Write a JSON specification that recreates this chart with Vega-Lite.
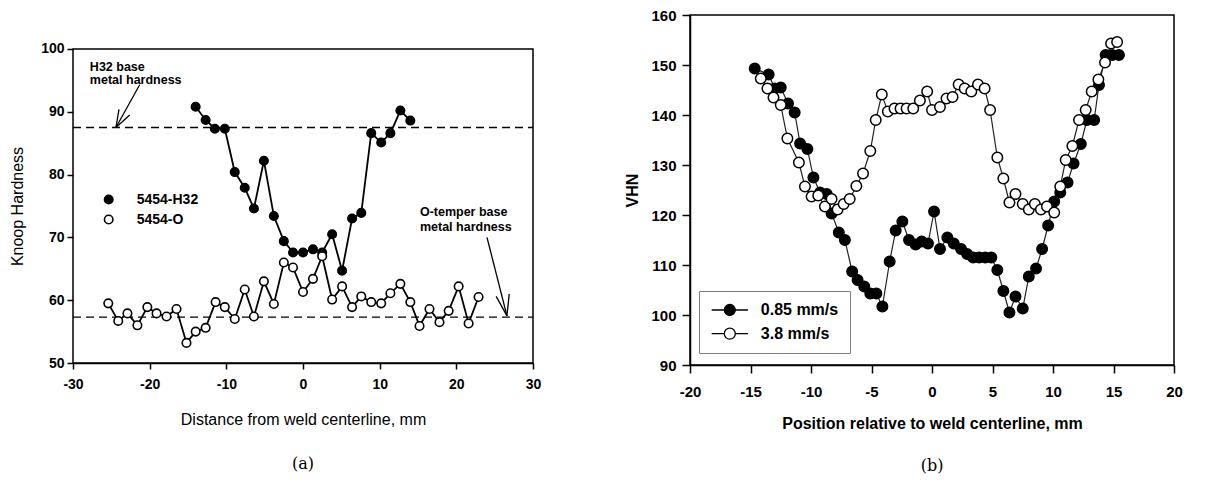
{
  "$schema": "https://vega.github.io/schema/vega-lite/v6.json",
  "padding": {"left": 9, "top": 7, "right": 5, "bottom": 0},
  "background": "white",
  "spacing": 83,
  "config": {
    "view": {"stroke": "black", "strokeWidth": 1.5},
    "axis": {"grid": false, "domainColor": "black", "domainWidth": 1.5, "tickColor": "black", "tickWidth": 1.5, "labelColor": "black", "titleColor": "black", "labelFont": "Liberation Sans", "titleFont": "Liberation Sans", "labelFlush": false, "labelOverlap": false},
    "legend": {"labelFont": "Liberation Sans", "labelColor": "black", "labelFontWeight": "bold"},
    "title": {"color": "black"}
  },
  "datasets": {
    "leftFrame": [{"x": -30, "x2": 30, "y": 50, "y2": 100}],
    "leftSeries": [
      {"alloy": "5454-H32", "x": -14.0, "y": 90.8}, {"alloy": "5454-H32", "x": -12.7, "y": 88.7}, {"alloy": "5454-H32", "x": -11.5, "y": 87.3}, {"alloy": "5454-H32", "x": -10.2, "y": 87.3}, {"alloy": "5454-H32", "x": -8.9, "y": 80.4}, {"alloy": "5454-H32", "x": -7.6, "y": 77.9}, {"alloy": "5454-H32", "x": -6.4, "y": 74.6}, {"alloy": "5454-H32", "x": -5.1, "y": 82.2}, {"alloy": "5454-H32", "x": -3.8, "y": 73.4}, {"alloy": "5454-H32", "x": -2.5, "y": 69.4}, {"alloy": "5454-H32", "x": -1.3, "y": 67.6}, {"alloy": "5454-H32", "x": 0.0, "y": 67.6}, {"alloy": "5454-H32", "x": 1.3, "y": 68.1}, {"alloy": "5454-H32", "x": 2.5, "y": 67.6}, {"alloy": "5454-H32", "x": 3.8, "y": 70.5}, {"alloy": "5454-H32", "x": 5.1, "y": 64.7}, {"alloy": "5454-H32", "x": 6.4, "y": 73.0}, {"alloy": "5454-H32", "x": 7.6, "y": 73.9}, {"alloy": "5454-H32", "x": 8.9, "y": 86.6}, {"alloy": "5454-H32", "x": 10.2, "y": 85.1}, {"alloy": "5454-H32", "x": 11.4, "y": 86.6}, {"alloy": "5454-H32", "x": 12.7, "y": 90.2}, {"alloy": "5454-H32", "x": 14.0, "y": 88.6},
      {"alloy": "5454-O", "x": -25.4, "y": 59.5}, {"alloy": "5454-O", "x": -24.1, "y": 56.7}, {"alloy": "5454-O", "x": -22.9, "y": 57.9}, {"alloy": "5454-O", "x": -21.6, "y": 56.0}, {"alloy": "5454-O", "x": -20.3, "y": 58.9}, {"alloy": "5454-O", "x": -19.1, "y": 57.9}, {"alloy": "5454-O", "x": -17.8, "y": 57.4}, {"alloy": "5454-O", "x": -16.5, "y": 58.6}, {"alloy": "5454-O", "x": -15.2, "y": 53.2}, {"alloy": "5454-O", "x": -14.0, "y": 55.0}, {"alloy": "5454-O", "x": -12.7, "y": 55.6}, {"alloy": "5454-O", "x": -11.4, "y": 59.7}, {"alloy": "5454-O", "x": -10.2, "y": 58.9}, {"alloy": "5454-O", "x": -8.9, "y": 57.0}, {"alloy": "5454-O", "x": -7.6, "y": 61.7}, {"alloy": "5454-O", "x": -6.4, "y": 57.4}, {"alloy": "5454-O", "x": -5.1, "y": 63.0}, {"alloy": "5454-O", "x": -3.8, "y": 59.4}, {"alloy": "5454-O", "x": -2.5, "y": 66.0}, {"alloy": "5454-O", "x": -1.3, "y": 65.2}, {"alloy": "5454-O", "x": 0.0, "y": 61.3}, {"alloy": "5454-O", "x": 1.3, "y": 63.4}, {"alloy": "5454-O", "x": 2.5, "y": 67.0}, {"alloy": "5454-O", "x": 3.8, "y": 60.1}, {"alloy": "5454-O", "x": 5.1, "y": 62.2}, {"alloy": "5454-O", "x": 6.4, "y": 58.9}, {"alloy": "5454-O", "x": 7.6, "y": 60.6}, {"alloy": "5454-O", "x": 8.9, "y": 59.7}, {"alloy": "5454-O", "x": 10.2, "y": 59.5}, {"alloy": "5454-O", "x": 11.4, "y": 61.1}, {"alloy": "5454-O", "x": 12.7, "y": 62.6}, {"alloy": "5454-O", "x": 14.0, "y": 59.7}, {"alloy": "5454-O", "x": 15.2, "y": 55.9}, {"alloy": "5454-O", "x": 16.5, "y": 58.6}, {"alloy": "5454-O", "x": 17.8, "y": 56.5}, {"alloy": "5454-O", "x": 19.0, "y": 58.3}, {"alloy": "5454-O", "x": 20.3, "y": 62.2}, {"alloy": "5454-O", "x": 21.6, "y": 56.3}, {"alloy": "5454-O", "x": 22.9, "y": 60.5}
    ],
    "leftRefs": [
      {"ref": "H32 base metal hardness", "x": -30, "x2": 30, "y": 87.5},
      {"ref": "O-temper base metal hardness", "x": -30, "x2": 30, "y": 57.3}
    ],
    "leftArrows": [
      {"x": -21.3, "y": 94.3, "x2": -24.4, "y2": 87.5},
      {"x": -24.4, "y": 87.5, "x2": -24.0, "y2": 90.4},
      {"x": -24.4, "y": 87.5, "x2": -22.6, "y2": 89.5},
      {"x": 24.0, "y": 70.0, "x2": 26.6, "y2": 57.5},
      {"x": 26.6, "y": 57.5, "x2": 25.2, "y2": 60.6},
      {"x": 26.6, "y": 57.5, "x2": 26.9, "y2": 61.0}
    ],
    "leftText": [
      {"t": "H32 base", "x": -27.8, "y": 97.2},
      {"t": "metal hardness", "x": -27.8, "y": 95.0},
      {"t": "O-temper base", "x": 15.25, "y": 74.0},
      {"t": "metal hardness", "x": 15.25, "y": 71.7}
    ],
    "rightSeries": [
      {"speed": "0.85 mm/s", "x": -14.65, "y": 149.3}, {"speed": "0.85 mm/s", "x": -13.5, "y": 148.1}, {"speed": "0.85 mm/s", "x": -13.0, "y": 145.3}, {"speed": "0.85 mm/s", "x": -12.5, "y": 145.5}, {"speed": "0.85 mm/s", "x": -11.9, "y": 142.3}, {"speed": "0.85 mm/s", "x": -11.35, "y": 140.5}, {"speed": "0.85 mm/s", "x": -10.9, "y": 134.3}, {"speed": "0.85 mm/s", "x": -10.3, "y": 133.2}, {"speed": "0.85 mm/s", "x": -9.8, "y": 127.5}, {"speed": "0.85 mm/s", "x": -9.25, "y": 124.5}, {"speed": "0.85 mm/s", "x": -8.7, "y": 124.2}, {"speed": "0.85 mm/s", "x": -8.3, "y": 120.3}, {"speed": "0.85 mm/s", "x": -7.7, "y": 116.5}, {"speed": "0.85 mm/s", "x": -7.2, "y": 115.0}, {"speed": "0.85 mm/s", "x": -6.6, "y": 108.7}, {"speed": "0.85 mm/s", "x": -6.15, "y": 107.0}, {"speed": "0.85 mm/s", "x": -5.6, "y": 105.7}, {"speed": "0.85 mm/s", "x": -5.1, "y": 104.3}, {"speed": "0.85 mm/s", "x": -4.6, "y": 104.3}, {"speed": "0.85 mm/s", "x": -4.1, "y": 101.7}, {"speed": "0.85 mm/s", "x": -3.5, "y": 110.7}, {"speed": "0.85 mm/s", "x": -3.0, "y": 116.9}, {"speed": "0.85 mm/s", "x": -2.45, "y": 118.7}, {"speed": "0.85 mm/s", "x": -1.9, "y": 115.0}, {"speed": "0.85 mm/s", "x": -1.35, "y": 114.1}, {"speed": "0.85 mm/s", "x": -0.85, "y": 114.7}, {"speed": "0.85 mm/s", "x": -0.33, "y": 114.3}, {"speed": "0.85 mm/s", "x": 0.17, "y": 120.7}, {"speed": "0.85 mm/s", "x": 0.66, "y": 113.2}, {"speed": "0.85 mm/s", "x": 1.27, "y": 115.5}, {"speed": "0.85 mm/s", "x": 1.8, "y": 114.3}, {"speed": "0.85 mm/s", "x": 2.4, "y": 113.2}, {"speed": "0.85 mm/s", "x": 2.9, "y": 112.2}, {"speed": "0.85 mm/s", "x": 3.4, "y": 111.5}, {"speed": "0.85 mm/s", "x": 3.9, "y": 111.5}, {"speed": "0.85 mm/s", "x": 4.4, "y": 111.5}, {"speed": "0.85 mm/s", "x": 4.9, "y": 111.5}, {"speed": "0.85 mm/s", "x": 5.4, "y": 109.0}, {"speed": "0.85 mm/s", "x": 5.9, "y": 104.8}, {"speed": "0.85 mm/s", "x": 6.4, "y": 100.5}, {"speed": "0.85 mm/s", "x": 6.9, "y": 103.7}, {"speed": "0.85 mm/s", "x": 7.5, "y": 101.3}, {"speed": "0.85 mm/s", "x": 8.0, "y": 107.7}, {"speed": "0.85 mm/s", "x": 8.6, "y": 109.3}, {"speed": "0.85 mm/s", "x": 9.1, "y": 113.2}, {"speed": "0.85 mm/s", "x": 9.6, "y": 117.9}, {"speed": "0.85 mm/s", "x": 10.1, "y": 122.7}, {"speed": "0.85 mm/s", "x": 10.6, "y": 124.5}, {"speed": "0.85 mm/s", "x": 11.2, "y": 126.5}, {"speed": "0.85 mm/s", "x": 11.7, "y": 130.3}, {"speed": "0.85 mm/s", "x": 12.3, "y": 134.2}, {"speed": "0.85 mm/s", "x": 12.8, "y": 139.0}, {"speed": "0.85 mm/s", "x": 13.4, "y": 139.0}, {"speed": "0.85 mm/s", "x": 13.8, "y": 146.0}, {"speed": "0.85 mm/s", "x": 14.35, "y": 152.0}, {"speed": "0.85 mm/s", "x": 14.9, "y": 152.0}, {"speed": "0.85 mm/s", "x": 15.45, "y": 152.0},
      {"speed": "3.8 mm/s", "x": -14.15, "y": 147.3}, {"speed": "3.8 mm/s", "x": -13.6, "y": 145.3}, {"speed": "3.8 mm/s", "x": -13.1, "y": 143.5}, {"speed": "3.8 mm/s", "x": -12.5, "y": 142.0}, {"speed": "3.8 mm/s", "x": -11.95, "y": 135.3}, {"speed": "3.8 mm/s", "x": -11.0, "y": 130.5}, {"speed": "3.8 mm/s", "x": -10.5, "y": 125.7}, {"speed": "3.8 mm/s", "x": -9.95, "y": 123.7}, {"speed": "3.8 mm/s", "x": -9.4, "y": 123.9}, {"speed": "3.8 mm/s", "x": -8.85, "y": 121.7}, {"speed": "3.8 mm/s", "x": -8.3, "y": 123.2}, {"speed": "3.8 mm/s", "x": -7.8, "y": 121.1}, {"speed": "3.8 mm/s", "x": -7.3, "y": 122.2}, {"speed": "3.8 mm/s", "x": -6.8, "y": 123.2}, {"speed": "3.8 mm/s", "x": -6.25, "y": 125.8}, {"speed": "3.8 mm/s", "x": -5.7, "y": 128.3}, {"speed": "3.8 mm/s", "x": -5.1, "y": 132.8}, {"speed": "3.8 mm/s", "x": -4.65, "y": 139.0}, {"speed": "3.8 mm/s", "x": -4.15, "y": 144.1}, {"speed": "3.8 mm/s", "x": -3.65, "y": 140.7}, {"speed": "3.8 mm/s", "x": -3.1, "y": 141.3}, {"speed": "3.8 mm/s", "x": -2.6, "y": 141.3}, {"speed": "3.8 mm/s", "x": -2.1, "y": 141.3}, {"speed": "3.8 mm/s", "x": -1.55, "y": 141.3}, {"speed": "3.8 mm/s", "x": -1.0, "y": 142.9}, {"speed": "3.8 mm/s", "x": -0.4, "y": 144.7}, {"speed": "3.8 mm/s", "x": 0.0, "y": 141.0}, {"speed": "3.8 mm/s", "x": 0.66, "y": 141.6}, {"speed": "3.8 mm/s", "x": 1.2, "y": 143.3}, {"speed": "3.8 mm/s", "x": 1.7, "y": 143.6}, {"speed": "3.8 mm/s", "x": 2.2, "y": 146.1}, {"speed": "3.8 mm/s", "x": 2.7, "y": 145.3}, {"speed": "3.8 mm/s", "x": 3.25, "y": 144.7}, {"speed": "3.8 mm/s", "x": 3.8, "y": 146.1}, {"speed": "3.8 mm/s", "x": 4.35, "y": 145.3}, {"speed": "3.8 mm/s", "x": 4.8, "y": 141.0}, {"speed": "3.8 mm/s", "x": 5.4, "y": 131.5}, {"speed": "3.8 mm/s", "x": 5.9, "y": 127.3}, {"speed": "3.8 mm/s", "x": 6.4, "y": 122.5}, {"speed": "3.8 mm/s", "x": 6.9, "y": 124.2}, {"speed": "3.8 mm/s", "x": 7.5, "y": 122.2}, {"speed": "3.8 mm/s", "x": 8.0, "y": 121.1}, {"speed": "3.8 mm/s", "x": 8.5, "y": 122.2}, {"speed": "3.8 mm/s", "x": 9.0, "y": 121.1}, {"speed": "3.8 mm/s", "x": 9.5, "y": 121.7}, {"speed": "3.8 mm/s", "x": 10.1, "y": 120.5}, {"speed": "3.8 mm/s", "x": 10.6, "y": 125.7}, {"speed": "3.8 mm/s", "x": 11.05, "y": 131.0}, {"speed": "3.8 mm/s", "x": 11.6, "y": 133.8}, {"speed": "3.8 mm/s", "x": 12.15, "y": 139.0}, {"speed": "3.8 mm/s", "x": 12.7, "y": 141.0}, {"speed": "3.8 mm/s", "x": 13.2, "y": 144.7}, {"speed": "3.8 mm/s", "x": 13.75, "y": 147.1}, {"speed": "3.8 mm/s", "x": 14.3, "y": 150.5}, {"speed": "3.8 mm/s", "x": 14.8, "y": 154.3}, {"speed": "3.8 mm/s", "x": 15.3, "y": 154.6}
    ]
  },
  "resolve": {"scale": {"x": "independent", "y": "independent", "fill": "independent"}, "legend": {"fill": "independent"}},
  "hconcat": [
    {
      "width": 460,
      "height": 348,
      "view": {"stroke": null},
      "title": {"text": "(a)", "orient": "bottom", "anchor": "middle", "font": "DejaVu Serif", "fontSize": 16, "fontWeight": "normal", "offset": 29},
      "encoding": {
        "x": {"field": "x", "type": "quantitative", "scale": {"domain": [-30, 30], "nice": false, "zero": false},
              "axis": {"orient": "bottom", "values": [-30, -20, -10, 0, 10, 20, 30], "labelExpr": "replace(datum.label, '−', '-')", "title": "Distance from weld centerline, mm", "labelFontSize": 14, "labelFontWeight": "bold", "titleFontSize": 16, "titleFontWeight": "normal", "tickSize": 6, "labelPadding": 8, "titlePadding": 20}},
        "y": {"field": "y", "type": "quantitative", "scale": {"domain": [50, 105.41], "nice": false, "zero": false},
              "axis": {"orient": "left", "values": [50, 60, 70, 80, 90, 100], "domain": false, "title": "Knoop Hardness", "titleY": 191, "labelFontSize": 14, "labelFontWeight": "bold", "titleFontSize": 16, "titleFontWeight": "normal", "tickSize": 6, "labelPadding": 3, "titlePadding": 15}}
      },
      "layer": [
        {
          "data": {"name": "leftFrame"},
          "mark": {"type": "rect", "fill": "white", "fillOpacity": 0, "stroke": "black", "strokeWidth": 1.5},
          "encoding": {"x2": {"field": "x2"}, "y2": {"field": "y2"}}
        },
        {
          "data": {"name": "leftRefs"},
          "mark": {"type": "rule", "color": "black", "strokeWidth": 1.3, "strokeDash": [8, 5]},
          "encoding": {"x2": {"field": "x2"}}
        },
        {
          "data": {"name": "leftSeries"},
          "mark": {"type": "line", "color": "black", "strokeWidth": 1.8},
          "encoding": {"detail": {"field": "alloy", "type": "nominal"}}
        },
        {
          "data": {"name": "leftSeries"},
          "mark": {"type": "point", "shape": "circle", "filled": true, "size": 72, "stroke": "black", "strokeWidth": 1.6, "opacity": 1, "fillOpacity": 1, "strokeOpacity": 1},
          "encoding": {
            "fill": {"field": "alloy", "type": "nominal", "scale": {"domain": ["5454-H32", "5454-O"], "range": ["black", "white"]},
                     "legend": {"orient": "none", "legendX": 28.7, "legendY": 177.5, "title": null, "labelFontSize": 14, "labelFontWeight": "bold", "symbolType": "circle", "symbolSize": 72, "symbolStrokeColor": "black", "symbolStrokeWidth": 1.6, "labelOffset": 21, "rowPadding": 4, "padding": 0}}
          }
        },
        {
          "data": {"name": "leftArrows"},
          "mark": {"type": "rule", "color": "black", "strokeWidth": 1.3},
          "encoding": {"x2": {"field": "x2"}, "y2": {"field": "y2"}}
        },
        {
          "data": {"name": "leftText"},
          "mark": {"type": "text", "align": "left", "baseline": "middle", "font": "Liberation Sans", "fontWeight": "bold", "fontSize": 12.5, "color": "black"},
          "encoding": {"text": {"field": "t", "type": "nominal"}}
        }
      ]
    },
    {
      "width": 484,
      "height": 350,
      "title": {"text": "(b)", "orient": "bottom", "anchor": "middle", "font": "DejaVu Serif", "fontSize": 16, "fontWeight": "normal", "offset": 27},
      "encoding": {
        "x": {"field": "x", "type": "quantitative", "scale": {"domain": [-20, 20], "nice": false, "zero": false},
              "axis": {"orient": "bottom", "values": [-20, -15, -10, -5, 0, 5, 10, 15, 20], "labelExpr": "replace(datum.label, '−', '-')", "title": "Position relative to weld centerline, mm", "labelFontSize": 15, "labelFontWeight": "bold", "titleFontSize": 16, "titleFontWeight": "bold", "tickSize": 8, "labelPadding": 11, "titlePadding": 16}},
        "y": {"field": "y", "type": "quantitative", "scale": {"domain": [90, 160], "nice": false, "zero": false},
              "axis": {"orient": "left", "values": [90, 100, 110, 120, 130, 140, 150, 160], "title": "VHN", "labelFontSize": 15, "labelFontWeight": "bold", "titleFontSize": 16, "titleFontWeight": "bold", "tickSize": 8, "labelPadding": 6, "titlePadding": 10}}
      },
      "layer": [
        {
          "data": {"name": "rightSeries"},
          "mark": {"type": "line", "color": "#222222", "strokeWidth": 1.2},
          "encoding": {"detail": {"field": "speed", "type": "nominal"}}
        },
        {
          "data": {"name": "rightSeries"},
          "mark": {"type": "point", "shape": "circle", "filled": true, "size": 110, "stroke": "black", "strokeWidth": 1.5, "opacity": 1, "fillOpacity": 1, "strokeOpacity": 1},
          "encoding": {
            "fill": {"field": "speed", "type": "nominal", "scale": {"domain": ["0.85 mm/s", "3.8 mm/s"], "range": ["black", "white"]},
                     "legend": {"orient": "none", "legendX": 9, "legendY": 276, "title": null, "labelFontSize": 16, "labelFontWeight": "bold", "symbolType": "M-3.3,0H-1M1,0H3.3M-1,0A1,1,0,1,1,1,0A1,1,0,1,1,-1,0Z", "symbolSize": 121, "symbolStrokeColor": "black", "symbolStrokeWidth": 1.3, "symbolOffset": 11.8, "labelOffset": 23, "rowPadding": 5.7, "padding": 11, "strokeColor": "#808080", "fillColor": "white"}}
          }
        }
      ]
    }
  ]
}
